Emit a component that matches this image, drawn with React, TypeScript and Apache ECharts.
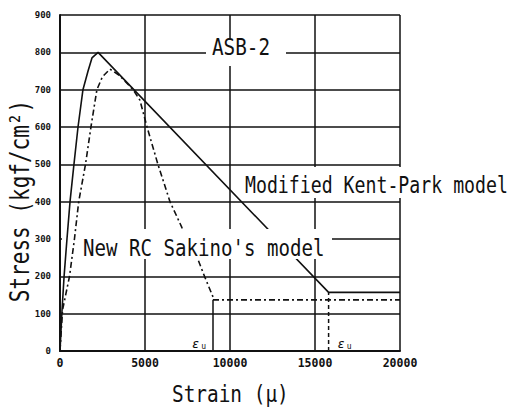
import React, { useEffect, useRef } from "react";
import * as echarts from "echarts";

// Modified Kent-Park model (solid)
const kentStrain = [0, 120, 240, 410, 590, 820, 1060, 1350, 1650, 1880, 2240, 15800, 20000];
const kentStress = [0, 110, 200, 300, 400, 500, 600, 700, 750, 785, 800, 157, 157];

// New RC Sakino's model (dash-dot)
const sakinoStrain = [0, 150, 560, 850, 1100, 1500, 1820, 2170, 2500, 2940, 3500, 4300, 4700, 5120, 5760, 6470, 7180, 8060, 8500, 9000, 9000, 20000];
const sakinoStress = [0, 110, 200, 300, 400, 500, 600, 700, 735, 755, 738, 700, 672, 600, 500, 400, 330, 252, 200, 145, 137, 137];

// ultimate strain markers (εu)
const epsUStrain = [9000, 15800];
const epsUStress = [137, 157];

const xTicks = [0, 5000, 10000, 15000, 20000];
const yTicks = [0, 100, 200, 300, 400, 500, 600, 700, 800, 900];

const FONT = "'DejaVu Sans Mono', 'Liberation Mono', monospace";
const INK = "#111";

const pairs = (xs: number[], ys: number[]) => xs.map((x, i) => [x, ys[i]]);

export default function App() {
  const ref = useRef<HTMLDivElement>(null);

  useEffect(() => {
    if (!ref.current) return;
    const chart = echarts.init(ref.current, undefined, { renderer: "svg" });

    chart.setOption({
      animation: false,
      backgroundColor: "#fff",
      grid: { left: 60, right: 124, top: 15, bottom: 58 },
      xAxis: {
        type: "value",
        min: xTicks[0],
        max: xTicks[xTicks.length - 1],
        interval: xTicks[1] - xTicks[0],
        axisLine: { show: true, onZero: false, lineStyle: { color: INK, width: 2 } },
        axisTick: { show: false },
        axisLabel: {
          color: INK,
          fontFamily: FONT,
          fontWeight: "bold",
          fontSize: 11.5,
          margin: 6,
          formatter: (v: number) => String(v),
        },
        splitLine: { show: true, lineStyle: { color: INK, width: 1.5 } },
      },
      yAxis: {
        type: "value",
        min: yTicks[0],
        max: yTicks[yTicks.length - 1],
        interval: yTicks[1] - yTicks[0],
        axisLine: { show: true, onZero: false, lineStyle: { color: INK, width: 2 } },
        axisTick: { show: false },
        axisLabel: {
          color: INK,
          fontFamily: FONT,
          fontWeight: "bold",
          fontSize: 9,
          margin: 9,
          formatter: (v: number) => String(v),
        },
        splitLine: { show: true, lineStyle: { color: INK, width: 1.5 } },
      },
      series: [
        {
          name: "Modified Kent-Park model",
          type: "line",
          data: pairs(kentStrain, kentStress),
          showSymbol: false,
          symbol: "none",
          lineStyle: { color: INK, width: 1.6 },
          z: 3,
        },
        {
          name: "New RC Sakino's model",
          type: "line",
          data: pairs(sakinoStrain, sakinoStress),
          showSymbol: false,
          symbol: "none",
          lineStyle: { color: INK, width: 1.6, type: [6, 3, 2, 3] },
          z: 3,
        },
        {
          name: "εu Sakino",
          type: "line",
          data: [[epsUStrain[0], 0], [epsUStrain[0], epsUStress[0]]],
          showSymbol: false,
          symbol: "none",
          lineStyle: { color: INK, width: 1.5 },
          z: 3,
        },
        {
          name: "εu Kent-Park",
          type: "line",
          data: [[epsUStrain[1], 0], [epsUStrain[1], epsUStress[1]]],
          showSymbol: false,
          symbol: "none",
          lineStyle: { color: INK, width: 1.5, type: [4, 3] },
          z: 3,
        },
      ],
    });

    const p1 = chart.convertToPixel({ gridIndex: 0 }, [epsUStrain[0], 0]) as number[];
    const p2 = chart.convertToPixel({ gridIndex: 0 }, [epsUStrain[1], 0]) as number[];

    const txt = (text: string, x: number, y: number, size: number, extra: any = {}) => ({
      type: "text",
      x,
      y,
      z: 101,
      scaleY: 1.22,
      ...extra,
      style: {
        text,
        fontSize: size,
        fontFamily: FONT,
        fill: INK,
        textAlign: extra.align || "left",
        align: extra.align || "left",
        textVerticalAlign: "middle",
        verticalAlign: "middle",
      },
    });
    const box = (x: number, y: number, w: number, h: number, z = 100) => ({
      type: "rect",
      z,
      shape: { x, y, width: w, height: h },
      style: { fill: "#fff" },
    });
    const eps = (x: number, y: number, align: string) => ({
      type: "text",
      x,
      y,
      z: 101,
      style: {
        text: "{e|ε}{u|u}",
        textAlign: align,
        align,
        textVerticalAlign: "middle",
        verticalAlign: "middle",
        fill: INK,
        rich: {
          e: { fontSize: 12, fontStyle: "italic", fontFamily: FONT, fill: INK },
          u: { fontSize: 8, fontFamily: FONT, fill: INK, padding: [5, 0, 0, 2] },
        },
      },
    });

    chart.setOption({
      graphic: [
        // hides 300 gridline at far left (below curves)
        box(62, 234, 20, 8, 1),
        box(206, 40, 80, 26),
        box(80, 229, 252, 30),
        box(240, 167, 275, 31),
        txt("ASB-2", 212, 46.5, 19.3),
        txt("Modified Kent-Park model", 245, 185, 18.2),
        txt("New RC Sakino's model", 83, 248, 19.1),
        txt("Strain (μ)", 172, 394, 19.4),
        {
          type: "text",
          x: 20,
          y: 201,
          rotation: Math.PI / 2,
          scaleY: 1.25,
          z: 101,
          style: {
            text: "Stress (kgf/cm²)",
            fontSize: 21,
            fontFamily: FONT,
            fill: INK,
            textAlign: "center",
            align: "center",
            textVerticalAlign: "middle",
            verticalAlign: "middle",
          },
        },
        eps(p1[0] - 7, p1[1] - 7, "right"),
        eps(p2[0] + 9, p2[1] - 7, "left"),
      ],
    });

    return () => chart.dispose();
  }, []);

  return (
    <div
      ref={ref}
      style={{ position: "absolute", left: 0, top: 0, width: 524, height: 409, background: "#fff" }}
    />
  );
}
